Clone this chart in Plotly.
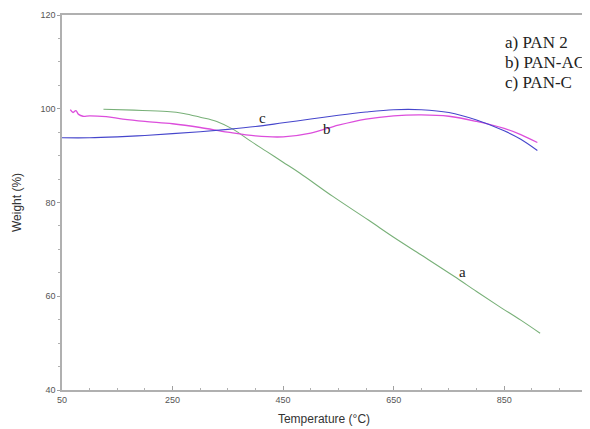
import plotly.graph_objects as go

# a) PAN 2 (green)
a_temp = [125, 180, 240, 270, 300, 330, 360, 390, 420, 450, 480, 540, 605, 650, 700, 760, 800, 840, 880, 915]
a_wt = [99.9, 99.7, 99.4, 99.0, 98.2, 97.3, 95.6, 93.2, 90.9, 88.6, 86.3, 81.3, 76.2, 72.6, 68.8, 64.2, 61.0, 57.9, 54.9, 52.1]

# b) PAN-AC (magenta)
b_temp = [65, 70, 75, 80, 88, 100, 130, 160, 200, 250, 300, 350, 400, 450, 500, 550, 600, 650, 700, 750, 800, 850, 880, 910]
b_wt = [99.8, 99.2, 99.6, 98.8, 98.4, 98.5, 98.3, 97.8, 97.3, 96.8, 96.0, 95.0, 94.2, 94.0, 94.8, 96.5, 97.8, 98.5, 98.7, 98.4, 97.3, 95.8, 94.5, 92.8]

# c) PAN-C (blue)
c_temp = [50, 100, 150, 200, 250, 300, 350, 400, 450, 500, 550, 600, 650, 700, 750, 800, 850, 880, 910]
c_wt = [93.8, 93.8, 94.0, 94.3, 94.7, 95.1, 95.6, 96.2, 97.0, 97.8, 98.6, 99.3, 99.8, 99.8, 99.2, 97.6, 95.3, 93.5, 91.1]

x_ticks = [50, 250, 450, 650, 850]
y_ticks = [40, 60, 80, 100, 120]
legend_lines = ["a) PAN 2", "b) PAN-AC", "c) PAN-C"]
curve_labels = [("a", 775, 65.1), ("b", 530, 95.7), ("c", 413, 98.1)]

fig = go.Figure()
fig.add_trace(go.Scatter(x=a_temp, y=a_wt, mode="lines", line=dict(color="#78b078", width=1.1, shape="spline")))
fig.add_trace(go.Scatter(x=b_temp, y=b_wt, mode="lines", line=dict(color="#dc4edc", width=1.3, shape="spline")))
fig.add_trace(go.Scatter(x=c_temp, y=c_wt, mode="lines", line=dict(color="#4646cc", width=1.1, shape="spline")))

for txt, xv, yv in curve_labels:
    fig.add_annotation(x=xv, y=yv, text=txt, showarrow=False,
                       font=dict(family="Liberation Serif", size=15, color="#222"))

for i, t in enumerate(legend_lines):
    fig.add_annotation(x=848, y=114.2 - i * 4.3, text=t, showarrow=False, xanchor="left",
                       font=dict(family="Liberation Serif", size=17, color="#222"))

axis_common = dict(showgrid=False, zeroline=False, showline=True, linecolor="#b0b0b0", linewidth=1.5,
                   mirror=True, tickcolor="#a0a0a0", tickfont=dict(family="Liberation Sans", size=9, color="#555"))

fig.update_xaxes(range=[50, 998], tickvals=x_ticks, ticks="inside", ticklen=4,
                 minor=dict(dtick=50, tick0=50, ticks="inside", ticklen=2, tickcolor="#b0b0b0"),
                 title=dict(text="Temperature (°C)", font=dict(family="Liberation Sans", size=12, color="#333"), standoff=11),
                 **axis_common)
fig.update_yaxes(range=[40, 120], tickvals=y_ticks, ticks="outside", ticklen=3,
                 minor=dict(dtick=5, tick0=40, ticks="outside", ticklen=2, tickcolor="#b0b0b0"),
                 title=dict(text="Weight (%)", font=dict(family="Liberation Sans", size=12, color="#333"), standoff=16),
                 **axis_common)

fig.update_layout(width=582, height=421, margin=dict(l=54, r=2, t=6, b=39),
                  plot_bgcolor="white", paper_bgcolor="white", showlegend=False)

fig.write_html("out.html")
